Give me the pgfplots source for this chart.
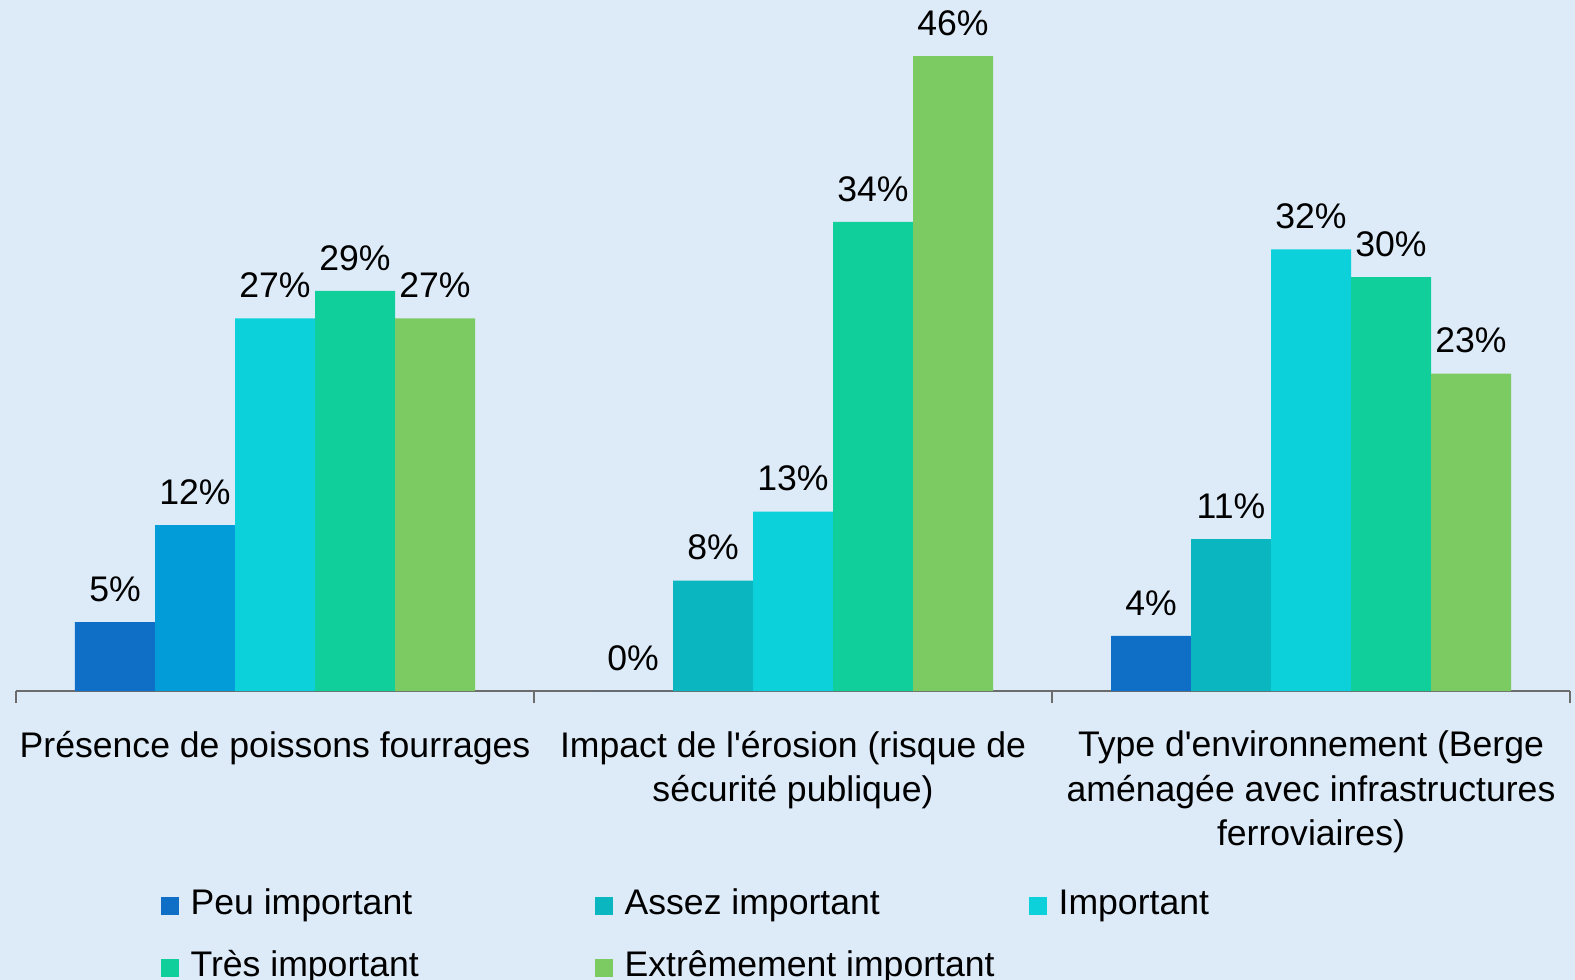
\documentclass[border=0pt]{standalone}
\usepackage{fontspec}
\setmainfont{Liberation Sans}[Ligatures=TeXOff]
\usepackage{pgfplots}
\pgfplotsset{compat=1.18}
\definecolor{bgcol}{HTML}{DDEBF8}
\definecolor{cPeu}{HTML}{0F6FC6}
\definecolor{cAssez}{HTML}{0AB7C0}
\definecolor{cAssezA}{HTML}{029DD8}
\definecolor{cImp}{HTML}{0CD1DA}
\definecolor{cTres}{HTML}{10CF9B}
\definecolor{cExt}{HTML}{7CCB62}
\newcommand{\lab}{\fontsize{17.8}{22.25}\selectfont}
\newcommand{\lent}[1]{\makebox[196pt][l]{#1}}

\begin{document}
\begin{tikzpicture}
  \fill[bgcol] (-7pt,-144.5pt) rectangle (780.5pt,345.5pt);
  \useasboundingbox (-7pt,-144.5pt) rectangle (780.5pt,345.5pt);
  \begin{axis}[
    at={(1pt,0)}, anchor=south west,
    scale only axis, width=777pt, height=345pt,
    xmin=-0.5, xmax=2.5, ymin=0, ymax=50,
    ybar=0pt, bar width=40pt,
    axis y line=none, axis x line*=bottom,
    x axis line style={draw=gray!85!black, line width=0.9pt, -},
    xtick={0,1,2}, major tick length=0pt,
    minor xtick={-0.5,0.5,1.5,2.5}, minor tick length=6pt,
    xtick align=outside,
    minor tick style={draw=gray!85!black, line width=0.9pt},
    xticklabels={Présence de poissons fourrages,
      {Impact de l'érosion (risque de\\sécurité publique)},
      {Type d'environnement (Berge\\aménagée avec infrastructures\\ferroviaires)}},
    xticklabel style={align=center, font=\lab, anchor=north, yshift=-16.5pt},
    /pgf/number format/assume math mode=true,
    nodes near coords={\pgfmathprintnumber{\pgfplotspointmeta}\%},
    nodes near coords style={font=\lab, text=black, inner sep=0pt, anchor=south, yshift=10pt},
    legend columns=3,
    legend image code/.code={\fill[#1, draw=none] (0pt,-4.5pt) rectangle (9pt,4.5pt);},
    legend style={at={(0.0928,-0.289)}, anchor=north west, draw=none, fill=none,
      inner sep=0pt, row sep=16pt, column sep=0pt,
      nodes={font=\lab, inner xsep=6pt, inner ysep=0pt, text height=12pt, text depth=3pt}},
    legend cell align=left,
  ]
    \addplot[fill=cPeu, draw=none, bar shift=-80pt] coordinates {(0,5) (1,0) (2,4)};
    \addlegendentry{\lent{Peu important}}
    \addplot[fill=cAssez, draw=none, bar shift=-40pt] coordinates {(1,8) (2,11)};
    \addlegendentry{\lent{Assez important}}
    \addplot[fill=cImp, draw=none, bar shift=0pt] coordinates {(0,27) (1,13) (2,32)};
    \addlegendentry{\lent{Important}}
    \addplot[fill=cTres, draw=none, bar shift=40pt] coordinates {(0,29) (1,34) (2,30)};
    \addlegendentry{\lent{Très important}}
    \addplot[fill=cExt, draw=none, bar shift=80pt] coordinates {(0,27) (1,46) (2,23)};
    \addlegendentry{\lent{Extrêmement important}}
    % first group's second bar is coloured differently in the source
    \addplot[fill=cAssezA, draw=none, bar shift=-40pt, forget plot] coordinates {(0,12)};
  \end{axis}
\end{tikzpicture}
\end{document}
